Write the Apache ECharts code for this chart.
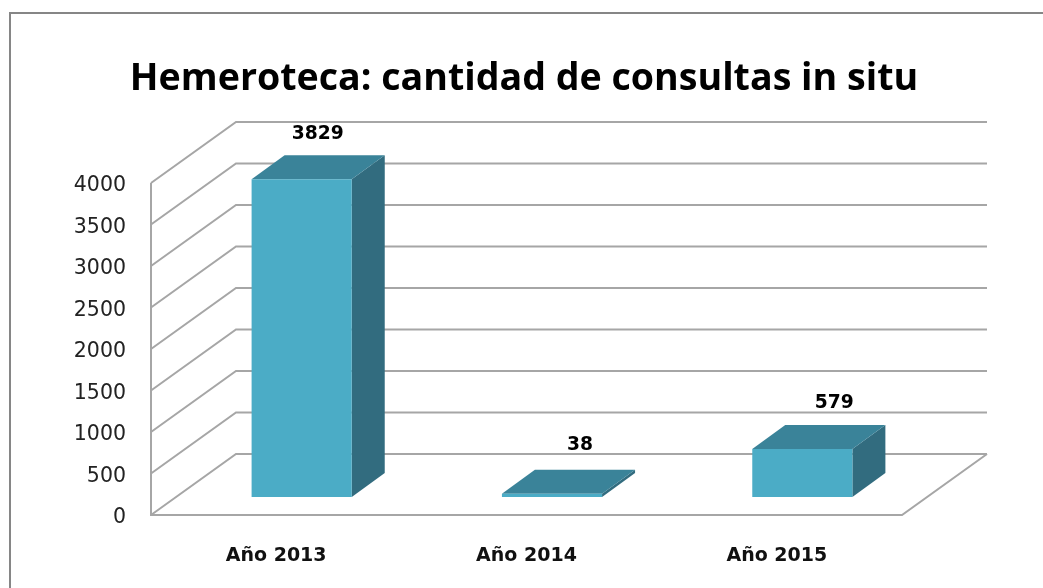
<!DOCTYPE html>
<html><head><meta charset="utf-8">
<style>html,body{margin:0;padding:0;background:#fff}#c{width:1043px;height:588px}</style>
<script src="https://cdn.jsdelivr.net/npm/echarts@6/dist/echarts.min.js"></script>
</head><body><div id="c"></div>
<script>
var chartTitle = 'Hemeroteca: cantidad de consultas in situ';
var categories = ['Año 2013', 'Año 2014', 'Año 2015'];
var consultas = [3829, 38, 579];
var wallTicks = [0, 500, 1000, 1500, 2000, 2500, 3000, 3500, 4000];

var WALL_DX = 85, WALL_DY = 61;      // oblique depth of the chart box
var BAR_SHIFT_X = 25.5, BAR_SHIFT_Y = 18; // bar front face offset into the box
var BAR_DX = 33, BAR_DY = 24;        // bar depth
var LABEL_NUDGE = [[16, -45], [28, -49], [32, -46]];
var LINE = '#a6a6a6';

function renderWall(params, api) {
  var cs = params.coordSys;
  var y = api.coord([0, api.value(1)])[1];
  var x0 = cs.x, x1 = cs.x + cs.width;
  var children = [{
    type: 'polyline',
    shape: { points: [[x0, y], [x0 + WALL_DX, y - WALL_DY], [x1 + WALL_DX, y - WALL_DY]] },
    style: { fill: null, stroke: LINE, lineWidth: 2 }
  }];
  if (api.value(1) === 0) {
    children.push({
      type: 'polyline',
      shape: { points: [[x0, cs.y], [x0, y], [x1, y], [x1 + WALL_DX, y - WALL_DY]] },
      style: { fill: null, stroke: LINE, lineWidth: 2 }
    });
  }
  return { type: 'group', children: children };
}

function renderBar(params, api) {
  var top = api.coord([api.value(0), api.value(1)]);
  var base = api.coord([api.value(0), 0]);
  var w = api.size([1, 0])[0] * 0.4;
  var xl = top[0] - w / 2 + BAR_SHIFT_X, xr = xl + w;
  var yt = top[1] - BAR_SHIFT_Y, yb = base[1] - BAR_SHIFT_Y;
  var nudge = LABEL_NUDGE[params.dataIndex];
  return {
    type: 'group',
    children: [
      { type: 'polygon', shape: { points: [[xr, yt], [xr + BAR_DX, yt - BAR_DY], [xr + BAR_DX, yb - BAR_DY], [xr, yb]] },
        style: { fill: '#326c7f' } },
      { type: 'polygon', shape: { points: [[xl, yt], [xl + BAR_DX, yt - BAR_DY], [xr + BAR_DX, yt - BAR_DY], [xr, yt]] },
        style: { fill: '#3a8399' } },
      { type: 'rect', shape: { x: xl, y: yt, width: w, height: yb - yt },
        style: { fill: '#4bacc6' } },
      { type: 'text', x: xl + w / 2 + nudge[0], y: yt + nudge[1],
        style: { text: String(api.value(1)), fill: '#000', font: 'bold 18.7px "DejaVu Sans", sans-serif', align: 'center', verticalAlign: 'middle' } }
    ]
  };
}

var chart = echarts.init(document.getElementById('c'));
chart.setOption({
  animation: false,
  backgroundColor: '#fff',
  title: {
    text: chartTitle, left: 519, top: 55, textAlign: 'center',
    textStyle: { color: '#000', fontFamily: 'Open Sans', fontWeight: 'bold', fontSize: 37.6 }
  },
  graphic: [{
    type: 'polyline', silent: true,
    shape: { points: [[10, 588], [10, 13], [1043, 13]] },
    style: { fill: null, stroke: '#868686', lineWidth: 2 }
  }],
  grid: { left: 151, width: 751, top: 183, height: 332 },
  xAxis: {
    type: 'category', data: categories,
    axisLine: { show: false }, axisTick: { show: false }, splitLine: { show: false },
    axisLabel: { margin: 32, color: '#111', fontFamily: 'DejaVu Sans', fontWeight: 'bold', fontSize: 19 }
  },
  yAxis: {
    type: 'value', min: 0, max: 4000, interval: 500,
    axisLine: { show: false }, axisTick: { show: false }, splitLine: { show: false },
    axisLabel: { margin: 25, color: '#222', fontFamily: 'DejaVu Sans', fontSize: 20.5,
      verticalAlign: 'top', lineHeight: 6,
      formatter: function (v) { return String(v); } }
  },
  series: [
    { type: 'custom', renderItem: renderWall, clip: false, silent: true,
      encode: { x: 0, y: 1 },
      data: wallTicks.map(function (t) { return [0, t]; }) },
    { type: 'custom', renderItem: renderBar, clip: false, silent: true,
      encode: { x: 0, y: 1 },
      data: categories.map(function (c, i) { return [i, consultas[i]]; }) }
  ]
});
</script></body></html>
